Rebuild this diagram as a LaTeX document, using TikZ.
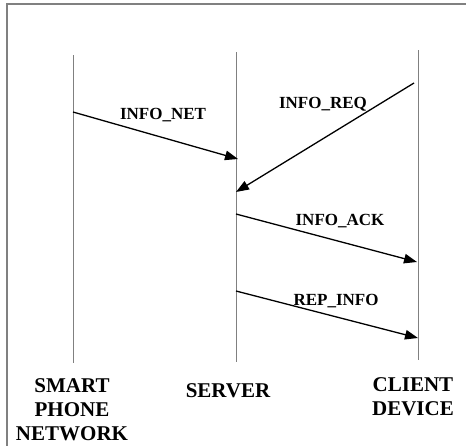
\documentclass[tikz,border=0pt]{standalone}
\usepackage{fontspec}
\setmainfont{Liberation Serif}
\usetikzlibrary{arrows.meta, positioning}

\begin{document}
\begin{tikzpicture}[
        x=1pt,
        y=-1pt,
        >={Triangle[length=13pt, width=9.5pt]},
        frame/.style={draw=black!50, line width=1.6pt},
        lifeline/.style={draw=black!50, line width=1pt},
        msg/.style={->, line width=1.3pt},
        msglabel/.style={font=\fontsize{17}{20}\selectfont\bfseries, inner sep=0pt, anchor=base},
        actor/.style={font=\fontsize{21}{24}\selectfont\bfseries, inner sep=0pt, align=center, anchor=north}
    ]
    \useasboundingbox (0,0) rectangle (466,445);
    \clip (0,0) rectangle (466,445);
    \draw[frame] (7,4) rectangle (480,460);

    % lifelines
    \coordinate (phoneTop) at (73,55);
    \coordinate (phoneBot) at (73,363);
    \coordinate (serverTop) at (236,52);
    \coordinate (serverBot) at (236,362);
    \coordinate (clientTop) at (418,50);
    \coordinate (clientBot) at (418,360);
    \draw[lifeline] (phoneTop) -- (phoneBot);
    \draw[lifeline] (serverTop) -- (serverBot);
    \draw[lifeline] (clientTop) -- (clientBot);

    % message ends
    \coordinate (net0) at (73,112);
    \coordinate (net1) at (238,159);
    \coordinate (req0) at (414,83);
    \coordinate (req1) at (236,192);
    \coordinate (ack0) at (236,214);
    \coordinate (ack1) at (417,262);
    \coordinate (rep0) at (236,291);
    \coordinate (rep1) at (418,338);

    \draw[msg] (net0) -- (net1);
    \draw[msg] (req0) -- (req1);
    \draw[msg] (ack0) -- (ack1);
    \draw[msg] (rep0) -- (rep1);

    \node[msglabel] (lnet) at (163,119) {INFO\_NET};
    \node[msglabel] (lreq) at (323,108) {INFO\_REQ};
    \node[msglabel] (lack) at (340,225) {INFO\_ACK};
    \node[msglabel] (lrep) at (336,305) {REP\_INFO};

    % actors
    \node[actor] (phone) at (72,378) {SMART\\PHONE\\NETWORK};
    \node[actor] (server) at (228,383) {SERVER};
    \node[actor] (client) at (413,377) {CLIENT\\DEVICE};
\end{tikzpicture}
\end{document}
